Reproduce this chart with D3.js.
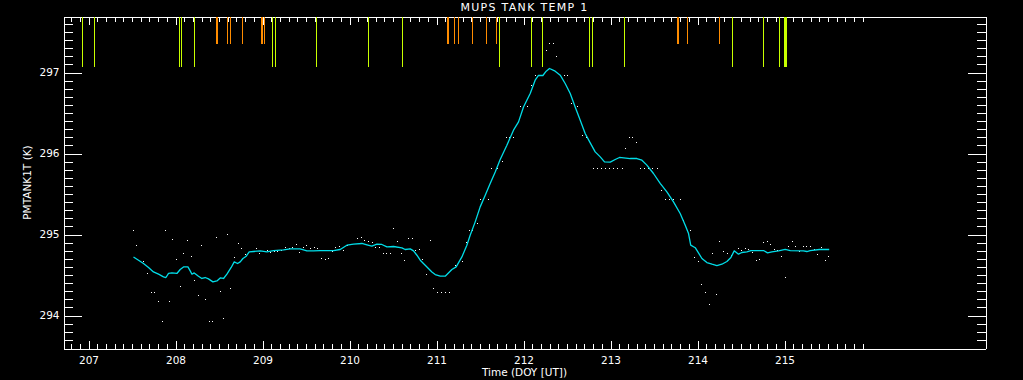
<!DOCTYPE html>
<html>
<head>
<meta charset="utf-8">
<script src="https://cdn.jsdelivr.net/npm/d3@7"></script>
<style>
html, body { margin: 0; padding: 0; background: #000; }
svg { display: block; }
text { font-family: "DejaVu Sans", sans-serif; fill: #fff; }
</style>
</head>
<body>
<div id="chart"></div>
<script>
// smoothed tank temperature, [DOY, K]
let smoothSeries = [[207.517,294.723],[207.575,294.683],[207.632,294.642],[207.690,294.593],[207.747,294.538],[207.805,294.510],[207.862,294.477],[207.890,294.469],[207.920,294.519],[207.959,294.526],[208.016,294.519],[208.054,294.568],[208.092,294.600],[208.143,294.600],[208.169,294.551],[208.189,294.510],[208.215,294.526],[208.264,294.485],[208.303,294.457],[208.341,294.469],[208.379,294.452],[208.430,294.415],[208.476,294.427],[208.514,294.464],[208.552,294.457],[208.591,294.510],[208.640,294.593],[208.675,294.662],[208.713,294.642],[208.744,294.662],[208.775,294.704],[208.813,294.732],[208.847,294.785],[208.897,294.790],[208.974,294.798],[209.051,294.785],[209.126,294.802],[209.241,294.810],[209.318,294.822],[209.433,294.822],[209.510,294.798],[209.586,294.798],[209.663,294.802],[209.816,294.802],[209.893,294.815],[209.970,294.868],[210.046,294.880],[210.143,294.889],[210.200,294.872],[210.257,294.856],[210.315,294.880],[210.372,294.877],[210.430,294.847],[210.506,294.852],[210.602,294.835],[210.640,294.815],[210.698,294.822],[210.736,294.798],[210.775,294.744],[210.813,294.683],[210.870,294.621],[210.947,294.538],[210.985,294.506],[211.043,294.485],[211.100,294.485],[211.177,294.568],[211.226,294.600],[211.292,294.723],[211.349,294.868],[211.387,294.991],[211.445,295.156],[211.502,295.341],[211.560,295.485],[211.617,295.630],[211.675,295.773],[211.732,295.926],[211.809,296.102],[211.885,296.288],[211.943,296.390],[212.000,296.575],[212.077,296.741],[212.134,296.905],[212.172,296.963],[212.223,296.963],[212.261,297.016],[212.299,297.049],[212.364,297.016],[212.422,296.967],[212.479,296.864],[212.537,296.741],[212.594,296.575],[212.652,296.411],[212.709,296.247],[212.767,296.131],[212.824,296.020],[212.882,295.958],[212.931,295.896],[212.997,295.893],[213.054,295.926],[213.103,295.951],[213.226,295.938],[213.303,295.938],[213.361,295.917],[213.418,295.856],[213.494,295.753],[213.571,295.630],[213.648,295.526],[213.724,295.402],[213.801,295.259],[213.859,295.115],[213.897,295.012],[213.922,294.868],[213.974,294.837],[214.011,294.773],[214.051,294.704],[214.108,294.654],[214.166,294.633],[214.223,294.617],[214.280,294.633],[214.338,294.667],[214.384,294.716],[214.422,294.798],[214.471,294.757],[214.510,294.778],[214.568,294.785],[214.614,294.802],[214.759,294.802],[214.805,294.773],[214.855,294.785],[214.931,294.798],[215.008,294.815],[215.066,294.802],[215.218,294.798],[215.257,294.790],[215.295,294.802],[215.402,294.815],[215.514,294.815]];

// raw samples (white dots), [DOY, K]
let rawSamples = [[207.517,295.049],[207.552,294.864],[207.632,294.667],[207.678,294.519],[207.724,294.284],[207.759,294.284],[207.805,294.173],[207.851,293.926],[207.885,295.049],[207.931,294.173],[207.966,294.938],[208.011,294.691],[208.057,294.358],[208.092,294.765],[208.138,294.926],[208.184,294.728],[208.218,294.432],[208.264,294.247],[208.299,294.864],[208.345,294.198],[208.391,293.926],[208.425,293.926],[208.471,294.963],[208.517,294.296],[208.552,293.963],[208.598,295.000],[208.632,294.333],[208.678,294.716],[208.721,294.889],[208.763,294.827],[208.805,294.753],[208.931,294.827],[208.966,294.765],[209.057,294.802],[209.092,294.778],[209.138,294.790],[209.172,294.790],[209.218,294.802],[209.264,294.840],[209.310,294.827],[209.345,294.840],[209.391,294.877],[209.425,294.778],[209.471,294.840],[209.506,294.864],[209.552,294.827],[209.598,294.840],[209.632,294.827],[209.678,294.704],[209.724,294.691],[209.759,294.704],[209.805,294.790],[209.839,294.840],[209.885,294.852],[209.931,294.802],[209.977,294.864],[210.092,294.951],[210.138,294.963],[210.172,294.926],[210.218,294.914],[210.264,294.901],[210.299,294.840],[210.345,294.840],[210.391,294.765],[210.425,294.765],[210.471,294.765],[210.506,295.074],[210.552,294.914],[210.598,294.765],[210.632,294.679],[210.678,294.951],[210.724,294.951],[210.759,294.802],[210.805,294.815],[210.839,294.691],[210.885,294.506],[210.931,294.926],[210.966,294.333],[211.011,294.284],[211.057,294.284],[211.103,294.284],[211.149,294.284],[211.218,294.617],[211.299,294.667],[211.345,294.896],[211.379,295.049],[211.414,295.049],[211.471,295.136],[211.506,295.432],[211.598,295.432],[211.632,295.815],[211.701,295.815],[211.759,295.901],[211.805,296.198],[211.839,296.198],[211.885,296.198],[211.966,296.580],[212.046,296.580],[212.092,296.840],[212.138,296.963],[212.184,296.963],[212.264,297.275],[212.299,297.353],[212.345,297.353],[212.379,297.198],[212.471,296.963],[212.506,296.963],[212.556,296.617],[212.625,296.580],[212.683,296.222],[212.729,296.198],[212.805,295.815],[212.851,295.815],[212.897,295.815],[212.943,295.815],[212.989,295.815],[213.034,295.815],[213.080,295.815],[213.138,295.815],[213.172,296.062],[213.218,296.198],[213.253,296.198],[213.299,296.136],[213.345,295.815],[213.391,295.815],[213.437,295.815],[213.483,295.815],[213.540,295.815],[213.586,295.543],[213.632,295.432],[213.678,295.432],[213.724,295.432],[213.805,295.432],[213.839,295.173],[213.885,295.049],[213.920,295.049],[213.966,294.716],[214.011,294.667],[214.046,294.383],[214.092,294.284],[214.138,294.136],[214.172,294.765],[214.218,294.259],[214.253,294.914],[214.299,294.790],[214.345,294.765],[214.391,294.741],[214.471,294.827],[214.506,294.802],[214.552,294.827],[214.586,294.815],[214.632,294.778],[214.678,294.679],[214.713,294.691],[214.759,294.901],[214.805,294.914],[214.839,294.877],[214.885,294.815],[214.920,294.802],[214.966,294.728],[215.011,294.469],[215.046,294.852],[215.092,294.914],[215.126,294.852],[215.172,294.790],[215.218,294.852],[215.253,294.852],[215.299,294.852],[215.345,294.815],[215.379,294.753],[215.425,294.840],[215.471,294.679],[215.506,294.728]];

// event markers along the top (DOY)
let longEvents = [206.931,207.069,208.046,208.069,208.218,209.115,209.149,209.621,210.218,210.609,211.724,212.092,212.218,212.759,212.793,213.161,214.402,214.759,214.943,215.000,215.011,215.023];
let shortEvents = [208.471,208.483,208.598,208.632,208.770,208.989,209.000,209.023,211.126,211.138,211.207,211.253,211.414,211.575,211.690,213.770,213.782,213.885,214.253];

let xTickValues = [207, 208, 209, 210, 211, 212, 213, 214, 215];
let yTickValues = [294, 295, 296, 297];
let xMinorTicks = d3.range(2068, 2160).map(d => d / 10);
let yMinorTicks = d3.range(2937, 2977).map(d => d / 10);

let width = 1023;
let height = 380;
let plotLeft = 63.5, plotRight = 985.5, plotTop = 16.5, plotBottom = 348.5;

let xScale = d3.scaleLinear()
                .domain([207 - 25 / 87, 207 + (plotRight - 88.5) / 87])
                .range([plotLeft, plotRight]);
let yScale = d3.scaleLinear()
                .domain([294 - 33 / 81, 297 + 56 / 81])
                .range([plotBottom, plotTop]);

let svg = d3.select("#chart")
    .append("svg")
    .attr("width", width)
    .attr("height", height)
    .style("background", "#000");

// axes: every side gets inward ticks, only bottom/left get labels
let styleAxis = (g) => {
    g.attr("font-family", "DejaVu Sans, sans-serif")
     .attr("font-size", 10.5)
     .style("color", "#fff")
     .attr("shape-rendering", "crispEdges");
    g.select(".domain").attr("stroke", "#fff");
};

svg.append("g")
    .attr("transform", `translate(0, ${plotBottom})`)
    .call(d3.axisBottom(xScale).tickValues(xMinorTicks).tickSize(-5).tickSizeOuter(0).tickFormat(""))
    .call(styleAxis);
svg.append("g")
    .attr("transform", `translate(0, ${plotBottom})`)
    .call(d3.axisBottom(xScale).tickValues(xTickValues).tickSize(-8).tickSizeOuter(0).tickPadding(8).tickFormat(d3.format("d")))
    .call(styleAxis);

svg.append("g")
    .attr("transform", `translate(0, ${plotTop})`)
    .call(d3.axisTop(xScale).tickValues(xMinorTicks).tickSize(-5).tickSizeOuter(0).tickFormat(""))
    .call(styleAxis);
svg.append("g")
    .attr("transform", `translate(0, ${plotTop})`)
    .call(d3.axisTop(xScale).tickValues(xTickValues).tickSize(-8).tickSizeOuter(0).tickFormat(""))
    .call(styleAxis);

svg.append("g")
    .attr("transform", `translate(${plotLeft}, 0)`)
    .call(d3.axisLeft(yScale).tickValues(yMinorTicks).tickSize(-9).tickSizeOuter(0).tickFormat(""))
    .call(styleAxis);
svg.append("g")
    .attr("transform", `translate(${plotLeft}, 0)`)
    .call(d3.axisLeft(yScale).tickValues(yTickValues).tickSize(-18).tickSizeOuter(0).tickPadding(4).tickFormat(d3.format("d")))
    .call(styleAxis);

svg.append("g")
    .attr("transform", `translate(${plotRight}, 0)`)
    .call(d3.axisRight(yScale).tickValues(yMinorTicks).tickSize(-9).tickSizeOuter(0).tickFormat(""))
    .call(styleAxis);
svg.append("g")
    .attr("transform", `translate(${plotRight}, 0)`)
    .call(d3.axisRight(yScale).tickValues(yTickValues).tickSize(-18).tickSizeOuter(0).tickFormat(""))
    .call(styleAxis);

// event markers
let px = (t) => Math.floor(xScale(t)) + 0.5;
svg.append("g")
    .attr("shape-rendering", "crispEdges")
    .selectAll("line")
    .data(longEvents)
    .join("line")
    .attr("x1", px).attr("x2", px)
    .attr("y1", plotTop + 0.5).attr("y2", plotTop + 50.5)
    .attr("stroke", "#c8ff00");
svg.append("g")
    .attr("shape-rendering", "crispEdges")
    .selectAll("line")
    .data(shortEvents)
    .join("line")
    .attr("x1", px).attr("x2", px)
    .attr("y1", plotTop + 0.5).attr("y2", plotTop + 27.5)
    .attr("stroke", "#ff8c00");

// raw samples
svg.append("g")
    .attr("shape-rendering", "crispEdges")
    .selectAll("rect")
    .data(rawSamples)
    .join("rect")
    .attr("x", (d) => Math.floor(xScale(d[0])))
    .attr("y", (d) => Math.floor(yScale(d[1])))
    .attr("width", 1)
    .attr("height", 1)
    .attr("fill", "#fff");

// smoothed curve
let lineGenerator = d3.line()
                        .x((d) => xScale(d[0]))
                        .y((d) => yScale(d[1]));
svg.append("path")
    .datum(smoothSeries)
    .attr("d", lineGenerator)
    .attr("fill", "none")
    .attr("stroke", "#00dde8")
    .attr("stroke-width", 1.3)
    .attr("stroke-linejoin", "round");

// titles
svg.append("text")
    .attr("x", (plotLeft + plotRight) / 2)
    .attr("y", 11)
    .attr("text-anchor", "middle")
    .attr("font-size", 11)
    .attr("letter-spacing", 1.3)
    .text("MUPS TANK TEMP 1");

svg.append("text")
    .attr("x", (plotLeft + plotRight) / 2)
    .attr("y", 376)
    .attr("text-anchor", "middle")
    .attr("font-size", 10.5)
    .text("Time (DOY [UT])");

svg.append("text")
    .attr("transform", `translate(31, ${(plotTop + plotBottom) / 2}) rotate(-90)`)
    .attr("text-anchor", "middle")
    .attr("font-size", 10.5)
    .text("PMTANK1T (K)");
</script>
</body>
</html>
